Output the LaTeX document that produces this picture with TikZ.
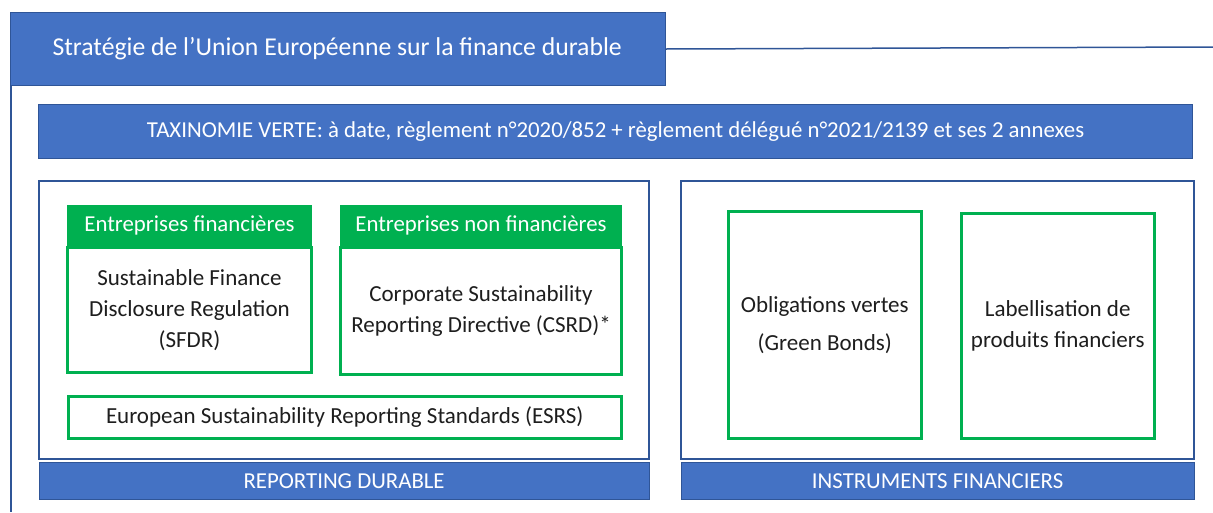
\documentclass[tikz,border=0pt]{standalone}
\usepackage{fontspec}
\setmainfont{Carlito}
\usetikzlibrary{positioning}
\definecolor{ueblue}{HTML}{4472C4}
\definecolor{uedark}{HTML}{2F5597}
\definecolor{uegreen}{HTML}{00B050}
\definecolor{uetext}{HTML}{1E1E1E}

\begin{document}
\begin{tikzpicture}[x=1pt, y=-1pt,
  bluebar/.style={draw=uedark, line width=1pt, fill=ueblue, text=white, inner sep=0pt, anchor=north west, font=\fontsize{22.8}{26}\selectfont},
  frame/.style={draw=uedark, line width=2.2pt, fill=white, inner sep=0pt, anchor=north west},
  greenhead/.style={draw=uegreen, line width=1pt, fill=uegreen, text=white, inner sep=0pt, anchor=north west, font=\fontsize{22.8}{26}\selectfont},
  greenbox/.style={draw=uegreen, line width=2.5pt, fill=white, text=uetext, align=center, inner sep=0pt, anchor=north west, font=\fontsize{23}{31}\selectfont}]
\useasboundingbox (0,0) rectangle (1213,512);

% titre et filet
\node[bluebar, minimum width=655pt, minimum height=73pt, font=\fontsize{25.7}{29}\selectfont] (titre) at (10,12) {\makebox[571pt][l]{Stratégie de l’Union Européenne sur la finance durable}};
\coordinate (fin) at (1213,47);
\coordinate (bas) at (11,512);
\draw[uedark, line width=1.5pt] (titre.east) -- (fin);
\draw[uedark, line width=1.5pt] ([xshift=1pt]titre.south west) -- ([xshift=1pt]titre.south west |- bas);

\node[bluebar, minimum width=1154pt, minimum height=54pt] (taxo) at (38,104) {TAXINOMIE VERTE: à date, règlement n°2020/852 + règlement délégué n°2021/2139 et ses 2 annexes};

% reporting durable
\node[frame, minimum width=610pt, minimum height=278pt] (reporting) at (38,180) {};
\node[bluebar, minimum width=610pt, minimum height=37pt, below=2pt of reporting] (lblreporting) {REPORTING DURABLE};
\node[greenhead, minimum width=244pt, minimum height=40pt] (fin1) at (67,205) {Entreprises financières};
\node[greenbox, minimum width=244pt, minimum height=125pt, below=0pt of fin1] (sfdr) {Sustainable Finance\\Disclosure Regulation\\(SFDR)};
\node[greenhead, minimum width=281pt, minimum height=40pt] (fin2) at (340,205) {Entreprises non financières};
\node[greenbox, minimum width=281pt, minimum height=127pt, below=0pt of fin2] (csrd) {Corporate Sustainability\\Reporting Directive (CSRD)*};
\node[greenbox, minimum width=553pt, minimum height=42pt] (esrs) at (67,395) {European Sustainability Reporting Standards (ESRS)};

% instruments financiers
\node[frame, minimum width=513pt, minimum height=278pt] (instruments) at (680,180) {};
\node[bluebar, minimum width=513pt, minimum height=37pt, below=2pt of instruments] (lblinstruments) {INSTRUMENTS FINANCIERS};
\node[greenbox, minimum width=193pt, minimum height=227pt, font=\fontsize{23}{38}\selectfont] (oblig) at (727,210) {Obligations vertes\\(Green Bonds)};
\node[greenbox, minimum width=193pt, minimum height=225pt] (label) at (960,212) {Labellisation de\\produits financiers};
\end{tikzpicture}
\end{document}
